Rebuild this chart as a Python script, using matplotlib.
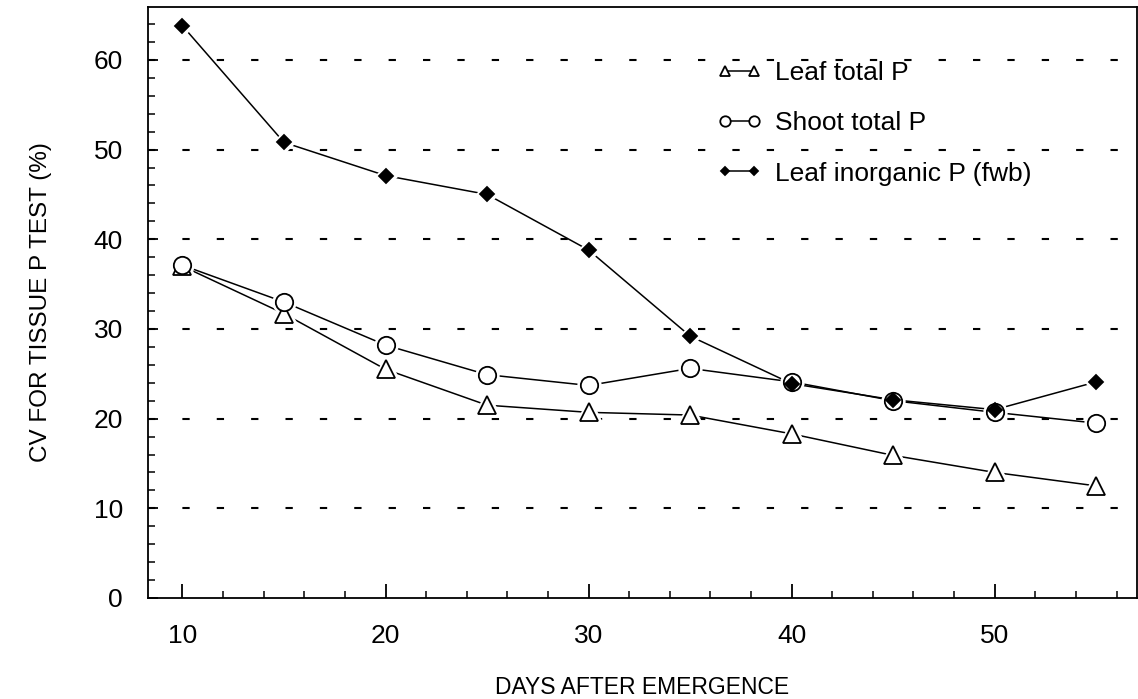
import matplotlib.pyplot as plt
from matplotlib.ticker import MultipleLocator

plt.rcParams['font.family'] = ['Liberation Sans', 'DejaVu Sans']

days = [10, 15, 20, 25, 30, 35, 40, 45, 50, 55]
leaf_total = [37.0, 31.7, 25.5, 21.5, 20.7, 20.4, 18.3, 15.9, 14.0, 12.5]
shoot_total = [37.1, 33.0, 28.2, 24.9, 23.7, 25.6, 24.1, 22.0, 20.7, 19.5]
leaf_inorganic = [63.8, 50.8, 47.1, 45.0, 38.8, 29.2, 23.9, 22.1, 21.0, 24.1]

fig = plt.figure(figsize=(11.38, 6.99), dpi=100)
ax = fig.add_axes([0.130, 0.1445, 0.869, 0.8455])

series = [
    (leaf_total, '^', 13, 'white', 'Leaf total P'),
    (shoot_total, 'o', 12.5, 'white', 'Shoot total P'),
    (leaf_inorganic, 'D', 7.5, 'black', 'Leaf inorganic P (fwb)'),
]
for vals, mk, ms, fc, lab in series:
    ax.plot(days, vals, color='black', lw=1.1, zorder=2)
    # white halo so the joining lines stop short of the symbols
    ax.plot(days, vals, ls='none', marker=mk, ms=ms, mfc='white', mec='white',
            mew=5, zorder=2.5)
for vals, mk, ms, fc, lab in series:
    ax.plot(days, vals, color='black', lw=1.1, ls='none', marker=mk, ms=ms,
            mfc=fc, mec='black', mew=1.3, zorder=3)
    ax.plot([], [], color='black', lw=1.1, marker=mk, ms=ms, mfc=fc,
            mec='black', mew=1.3, label=lab)

ax.set_xlim(8.3, 57.0)
ax.set_ylim(0, 65.9)
ax.xaxis.set_major_locator(MultipleLocator(10))
ax.xaxis.set_minor_locator(MultipleLocator(2))
ax.yaxis.set_major_locator(MultipleLocator(10))
ax.yaxis.set_minor_locator(MultipleLocator(2))
ax.tick_params(which='major', direction='in', length=10, width=1.3,
               labelsize=19, pad=18, colors='black')
ax.tick_params(which='minor', direction='in', length=5, width=1.1)
ax.tick_params(axis='x', pad=19)
ax.tick_params(axis='y', which='major', length=7)

for y in range(10, 61, 10):
    ax.axhline(y, color='black', lw=1.5, ls=(0, (3.5, 13)), zorder=1)

for s in ax.spines.values():
    s.set_linewidth(1.3)

ax.set_xlabel('DAYS AFTER EMERGENCE', fontsize=16.5, labelpad=20)
ax.set_ylabel('CV FOR TISSUE P TEST (%)', fontsize=17.5, labelpad=30)

leg = ax.legend(loc='upper left', bbox_to_anchor=(0.551, 0.949), frameon=False,
                fontsize=19, numpoints=2, handlelength=1.7, markerscale=0.6,
                labelspacing=1.0, handletextpad=0.5)

fig.savefig('out.png', dpi=100)
